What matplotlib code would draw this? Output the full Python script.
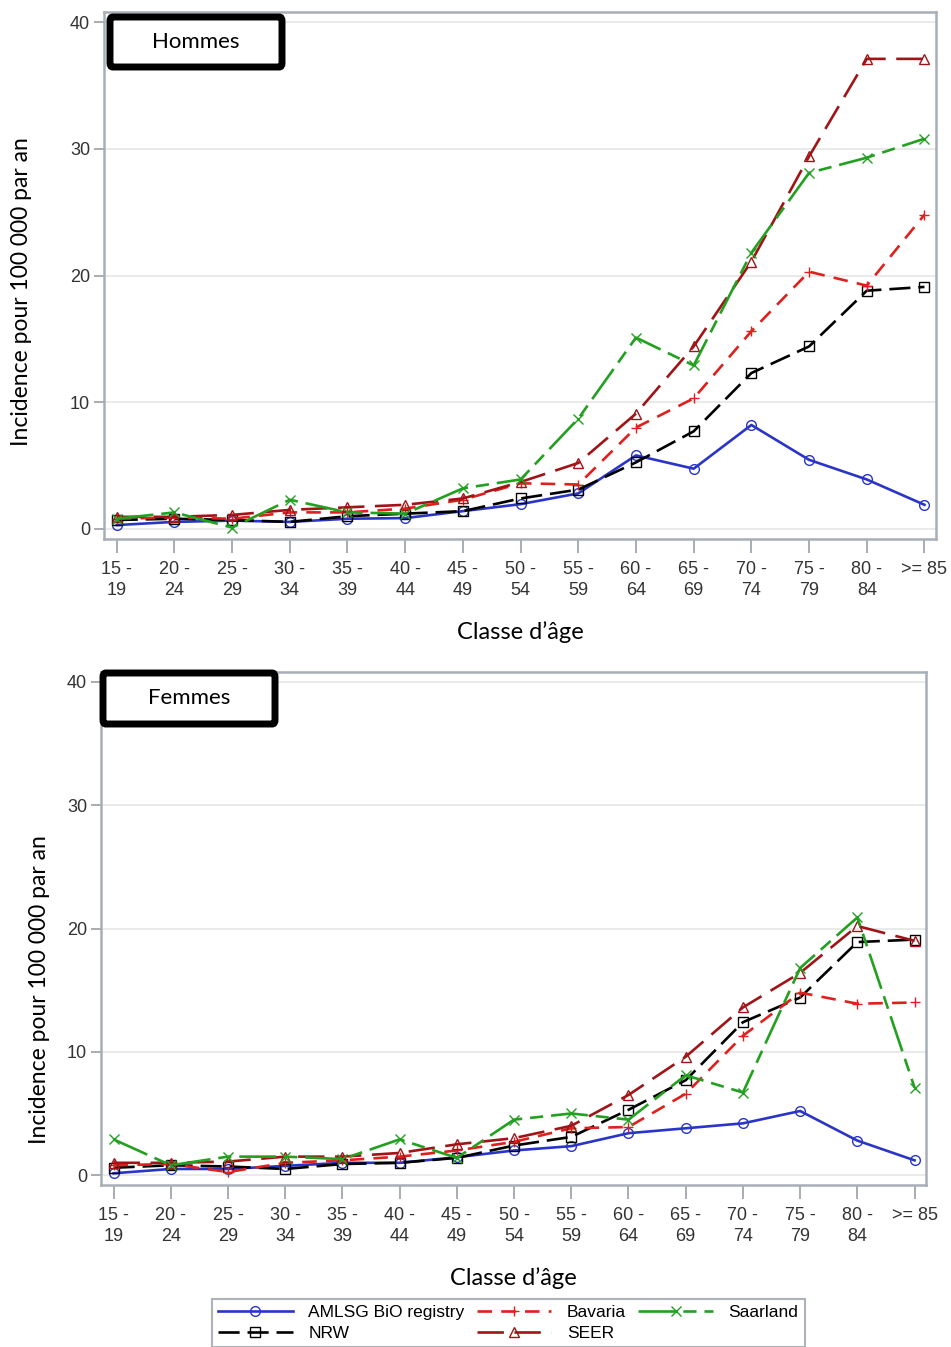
import matplotlib

matplotlib.use("Agg")
import matplotlib.pyplot as plt
from matplotlib.patches import FancyBboxPatch

age_labels = ["15 -\n19", "20 -\n24", "25 -\n29", "30 -\n34", "35 -\n39", "40 -\n44",
              "45 -\n49", "50 -\n54", "55 -\n59", "60 -\n64", "65 -\n69", "70 -\n74",
              "75 -\n79", "80 -\n84", ">= 85"]

# Hommes
h_amlsg = [0.3, 0.55, 0.65, 0.55, 0.8, 0.85, 1.4, 1.95, 2.8, 5.8, 4.75, 8.2, 5.45, 3.9, 1.9]
h_nrw = [0.7, 0.8, 0.7, 0.55, 1.0, 1.2, 1.4, 2.4, 3.1, 5.25, 7.7, 12.3, 14.4, 18.8, 19.1]
h_bavaria = [0.8, 0.9, 0.8, 1.3, 1.3, 1.6, 2.3, 3.6, 3.5, 8.0, 10.3, 15.6, 20.3, 19.2, 24.8]
h_seer = [0.95, 0.95, 1.1, 1.5, 1.7, 1.9, 2.4, 3.7, 5.2, 9.1, 14.4, 21.1, 29.4, 37.1, 37.1]
h_saarland = [0.8, 1.3, 0.1, 2.3, 1.3, 1.2, 3.2, 3.9, 8.7, 15.1, 12.9, 21.8, 28.1, 29.3, 30.8]

# Femmes
f_amlsg = [0.15, 0.5, 0.5, 0.75, 1.0, 1.0, 1.45, 2.0, 2.35, 3.4, 3.8, 4.2, 5.2, 2.8, 1.2]
f_nrw = [0.6, 0.8, 0.7, 0.5, 0.9, 1.0, 1.4, 2.4, 3.1, 5.3, 7.7, 12.4, 14.4, 18.9, 19.1]
f_bavaria = [0.8, 0.9, 0.25, 1.0, 1.2, 1.5, 2.0, 2.7, 3.8, 3.9, 6.6, 11.3, 14.8, 13.9, 14.0]
f_seer = [1.0, 1.0, 1.1, 1.5, 1.5, 1.8, 2.5, 3.0, 4.0, 6.5, 9.6, 13.6, 16.4, 20.2, 19.0]
f_saarland = [2.9, 0.8, 1.5, 1.5, 1.3, 2.9, 1.4, 4.5, 5.0, 4.5, 8.1, 6.7, 16.8, 20.9, 7.1]

tick_font = ["Liberation Sans Narrow", "Liberation Sans", "DejaVu Sans"]
label_font = ["Lato", "DejaVu Sans"]

styles = [
    ("AMLSG BiO registry", "#2a35c8", "-", "o"),
    ("NRW", "black", (0, (8, 3)), "s"),
    ("Bavaria", "#e0201c", (0, (5.5, 3.5)), "+"),
    ("SEER", "#a01418", (0, (10, 4)), "^"),
    ("Saarland", "#22a020", (0, (14, 3, 5, 3)), "x"),
]

fig = plt.figure(figsize=(9.51, 13.47), dpi=100)


def draw_panel(ax, series, title, box_px):
    x = list(range(len(age_labels)))
    lines = []
    for (name, color, ls, mk), y in zip(styles, series):
        mfc = "none" if mk in ("o", "s", "^") else color
        ln, = ax.plot(x, y, color=color, linestyle=ls, linewidth=1.9, marker=mk,
                      markersize=7, markerfacecolor=mfc, markeredgewidth=1.0,
                      label=name)
        lines.append(ln)
    ax.set_xlim(-0.22, 14.2)
    ax.set_ylim(-0.8, 40.8)
    ax.set_yticks([0, 10, 20, 30, 40])
    ax.set_xticks(x)
    ax.set_xticklabels(age_labels, family=tick_font, fontsize=13, color="#333333",
                       linespacing=1.3)
    for lb in ax.get_yticklabels():
        lb.set_family(tick_font)
        lb.set_fontsize(13)
        lb.set_color("#333333")
    ax.tick_params(axis="x", length=10, width=1.2, color="#9aa0a8", pad=6)
    ax.tick_params(axis="y", length=7, width=1.2, color="#9aa0a8", pad=3)
    ax.grid(axis="y", color="#e6e6e6", linewidth=1.2)
    ax.set_axisbelow(True)
    for sp in ax.spines.values():
        sp.set_color("#a8aeb6")
        sp.set_linewidth(1.8)
    ax.set_xlabel("Classe d’âge", family=label_font, fontsize=17, labelpad=16)
    ax.set_ylabel("Incidence pour 100 000 par an", family=label_font, fontsize=16.5)

    # label box
    x0, y0, x1, y1 = box_px
    W, H = 951, 1347
    patch = FancyBboxPatch((x0 / W, 1 - y1 / H), (x1 - x0) / W, (y1 - y0) / H,
                           boxstyle="round,pad=0,rounding_size=0.003",
                           transform=fig.transFigure, facecolor="white",
                           edgecolor="black", linewidth=5, zorder=10)
    fig.patches.append(patch)
    fig.text((x0 + x1) / 2 / W, 1 - (y0 + y1) / 2 / H, title, family=label_font,
             fontsize=16, ha="center", va="center", zorder=11)
    return lines


ax1 = fig.add_axes([104 / 951, 1 - 539 / 1347, 832 / 951, 527 / 1347])
lines = draw_panel(ax1, [h_amlsg, h_nrw, h_bavaria, h_seer, h_saarland], "Hommes",
                   (110, 17, 282, 67))
ax1.yaxis.set_label_coords(-0.086, 0.47)

ax2 = fig.add_axes([101 / 951, 1 - 1185 / 1347, 825 / 951, 513 / 1347])
draw_panel(ax2, [f_amlsg, f_nrw, f_bavaria, f_seer, f_saarland], "Femmes",
           (103, 673, 275, 724))
ax2.yaxis.set_label_coords(-0.062, 0.38)

leg = fig.legend(handles=lines, loc="upper left", bbox_to_anchor=(212 / 951, 1 - 1299 / 1347),
                 ncol=3, prop={"family": ["Liberation Sans", "DejaVu Sans"], "size": 12.5},
                 handlelength=4.3, columnspacing=0.7, handletextpad=0.9,
                 borderaxespad=0, fancybox=False, labelspacing=0.3,
                 borderpad=0.35)
leg.get_frame().set_edgecolor("#9aa0a8")
leg.get_frame().set_linewidth(1.5)

fig.savefig("out.png", dpi=100)
